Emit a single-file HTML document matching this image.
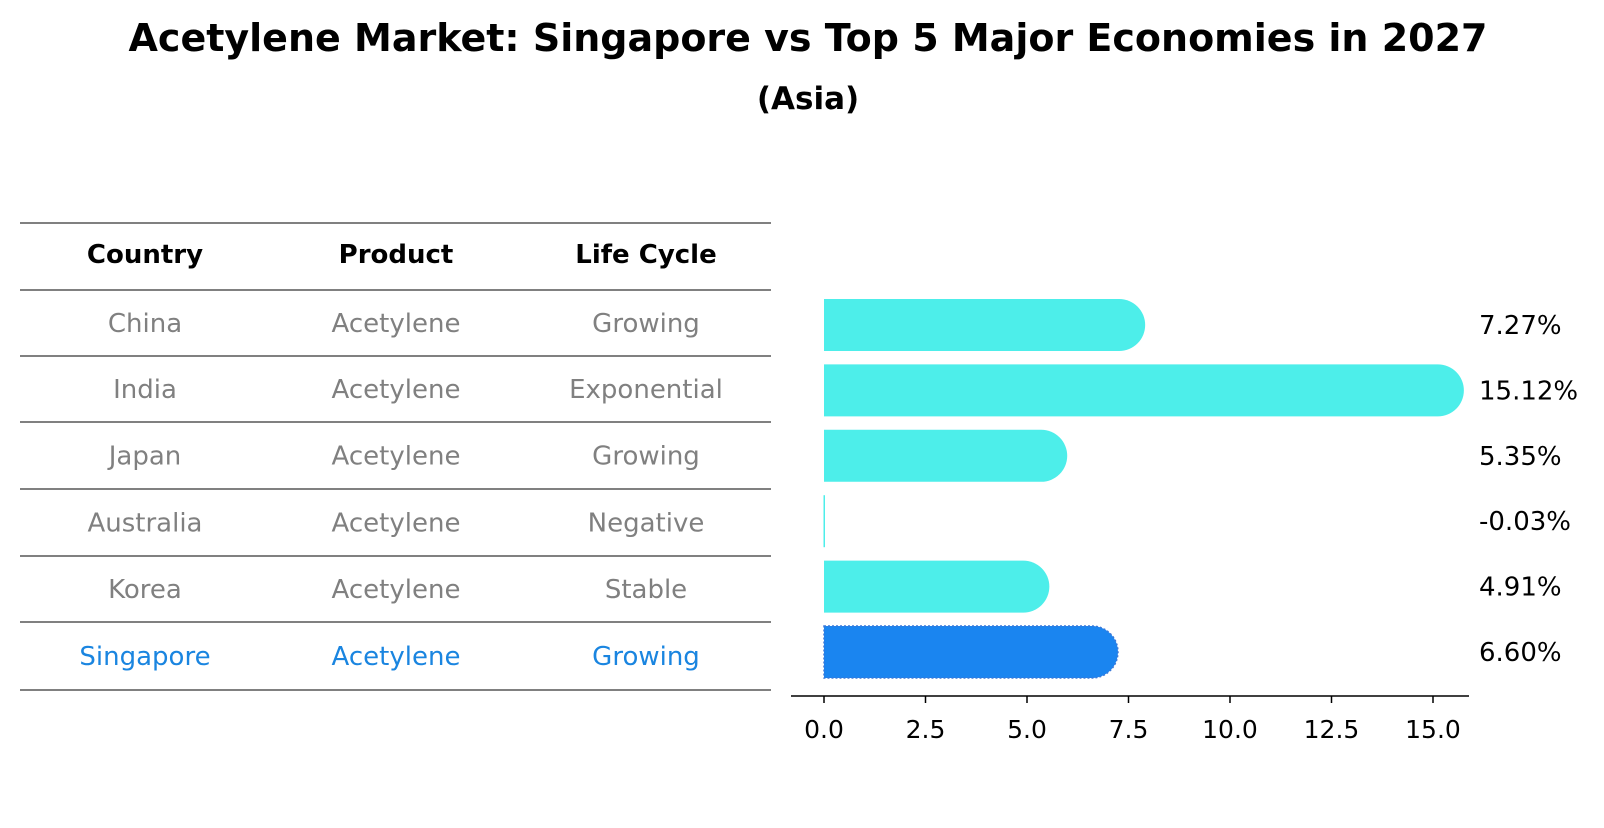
<!DOCTYPE html>
<html><head><meta charset="utf-8"><style>
body{margin:0;background:#fff;}
svg text{font-family:"DejaVu Sans","Liberation Sans",sans-serif;}
</style></head><body>
<svg id="chart" width="1604" height="823" xmlns="http://www.w3.org/2000/svg">
<text x="808" y="51" text-anchor="middle" font-size="38" font-weight="bold">Acetylene Market: Singapore vs Top 5 Major Economies in 2027</text>
<text x="808" y="109" text-anchor="middle" font-size="31" font-weight="bold">(Asia)</text>
<g id="table"></g>
<g id="bars"></g>
</svg>
<script>
const countries = ["China","India","Japan","Australia","Korea","Singapore"];
const products = ["Acetylene","Acetylene","Acetylene","Acetylene","Acetylene","Acetylene"];
const lifeCycles = ["Growing","Exponential","Growing","Negative","Stable","Growing"];
const growth = [7.27,15.12,5.35,-0.03,4.91,6.60];
const tickValues = [0,2.5,5,7.5,10,12.5,15];
const tickLabels = ["0.0","2.5","5.0","7.5","10.0","12.5","15.0"];

const NS="http://www.w3.org/2000/svg";
function mk(tag,attrs,parent){const e=document.createElementNS(NS,tag);for(const k in attrs)e.setAttribute(k,attrs[k]);parent.appendChild(e);return e;}
const tbl=document.getElementById('table');
const bars=document.getElementById('bars');
const lineYs=[223,290,356,422,489,556,622,690];
const colX=[145,396,646];
lineYs.forEach((y,i)=>{
  const l=mk('line',{x1:20,x2:771,y1:y,y2:y,stroke:'#000','stroke-width':1},tbl);
  
  
});
const heads=["Country","Product","Life Cycle"];
heads.forEach((h,i)=>{
  const t=mk('text',{x:colX[i],y:263,'text-anchor':'middle','font-size':26,'font-weight':'bold'},tbl);
  t.textContent=h;
  
  
});
countries.forEach((c,r)=>{
  const y=(lineYs[r+1]+lineYs[r+2])/2+9;
  const col=c==="Singapore"?'#1a85e0':'#808080';
  [c,products[r],lifeCycles[r]].forEach((v,i)=>{
    const t=mk('text',{x:colX[i],y:y,'text-anchor':'middle','font-size':26,fill:col},tbl);
    t.textContent=v;
    
    
  });
});
const x0=824, pxPer=40.6;
const xs=v=>x0+v*pxPer;
const yc=i=>325+i*65.4;
const bh=52, r=26;
growth.forEach((v,i)=>{
  const sing=countries[i]==="Singapore";
  const col=sing?'#1a85f0':'#4deeea';
  const xe=xs(Math.max(v,0));
  const y=yc(i);
  if(v<=0.01){
    const b=mk('rect',{x:x0-0.5,y:y-bh/2,width:1.5,height:bh,fill:col},bars);
    
    
  } else {
    const d=`M${x0},${y-bh/2} L${xe},${y-bh/2} A${r},${r} 0 0 1 ${xe},${y+bh/2} L${x0},${y+bh/2} Z`;
    const b=mk('path',{d:d,fill:col},bars);
    if(sing){b.setAttribute('stroke','#3a78d8');b.setAttribute('stroke-width','1.5');b.setAttribute('stroke-dasharray','2,2');}
    
    
  }
  const t=mk('text',{x:1479,y:y+9,'font-size':26},bars);
  t.textContent=v.toFixed(2)+'%';
  
  
});
const ax=mk('line',{x1:791,x2:1469,y1:696,y2:696,stroke:'#000','stroke-width':1.5},bars);


tickValues.forEach((v,i)=>{
  const tk=mk('line',{x1:xs(v),x2:xs(v),y1:696,y2:703,stroke:'#000','stroke-width':1.5},bars);
  
  
  const t=mk('text',{x:xs(v),y:738,'text-anchor':'middle','font-size':25},bars);
  t.textContent=tickLabels[i];
  
  
});
</script>
</body></html>
